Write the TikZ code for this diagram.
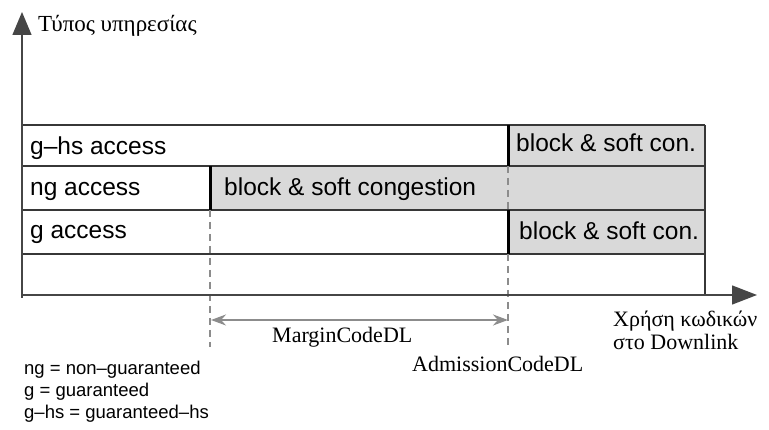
\documentclass[tikz,border=0pt]{standalone}
\usepackage{fontspec}
\setmainfont{Liberation Serif}
\setsansfont{Liberation Sans}
\usetikzlibrary{arrows.meta,positioning}
\definecolor{codeGrid}{RGB}{55,55,55}
\definecolor{codeAxis}{RGB}{70,70,70}
\definecolor{codeFill}{RGB}{217,217,217}
\definecolor{codeGuide}{RGB}{140,140,140}

\begin{document}
\begin{tikzpicture}[x=1pt,y=-1pt,
  rowline/.style={draw=codeGrid, line width=1.4pt},
  limitline/.style={draw=black, line width=3pt},
  guideline/.style={draw=codeGuide, line width=1.3pt, dash pattern=on 7pt off 5pt},
  celltext/.style={font=\sffamily\fontsize{24.5}{28}\selectfont, anchor=base west, inner sep=0pt},
  axistext/.style={font=\rmfamily\fontsize{22}{23}\selectfont, anchor=base west, inner sep=0pt, align=left},
  legendtext/.style={font=\sffamily\fontsize{18.5}{20}\selectfont, anchor=base west, inner sep=0pt}]
  \useasboundingbox (0,0) rectangle (769,430);

  % shaded congestion cells
  \fill[codeFill] (508,125) rectangle (705,166);
  \fill[codeFill] (210,166) rectangle (705,210);
  \fill[codeFill] (508,210) rectangle (705,254);

  % rows
  \foreach \y in {125,166,210,254}
    \draw[rowline] (22,\y) -- (705,\y);
  \draw[rowline] (705,125) -- (705,295);

  % thresholds
  \draw[limitline] (210,166) -- (210,210);
  \draw[limitline] (508,125) -- (508,166);
  \draw[limitline] (508,210) -- (508,254);
  \draw[guideline] (210,210) -- (210,347);
  \draw[guideline] (508,166) -- (508,210);
  \draw[guideline] (508,254) -- (508,345);

  % axes
  \coordinate (origin) at (22,298);
  \coordinate (ytip) at (22,12);
  \coordinate (xstart) at (22,295);
  \coordinate (xtip) at (757,295);
  \draw[draw=codeAxis, line width=1.4pt, -{Triangle[length=23pt,width=19pt,fill=codeAxis]}] (origin) -- (ytip);
  \draw[draw=codeAxis, line width=1.4pt, -{Triangle[length=25pt,width=19pt,fill=codeAxis]}] (xstart) -- (xtip);

  \coordinate (marginL) at (211,320);
  \coordinate (marginR) at (508,320);
  \draw[draw=codeGuide, line width=1.4pt, {Stealth[length=15pt,width=11pt]}-{Stealth[length=15pt,width=11pt]}] (marginL) -- (marginR);

  % labels
  \node[celltext] (ghs) at (30,155) {g–hs access};
  \node[celltext] (ng) at (30,196) {ng access};
  \node[celltext] (g) at (30,239) {g access};
  \node[celltext] (ngcong) at (224,196) {block \& soft congestion};
  \node[celltext] (ghscong) at (516,152) {block \& soft con.};
  \node[celltext] (gcong) at (519,240) {block \& soft con.};

  \node[axistext, font=\rmfamily\fontsize{23}{24}\selectfont] (ylabel) at (38,32) {Τύπος υπηρεσίας};
  \node[axistext] (xlabel) at (613,350) {Χρήση κωδικών\\στο Downlink};
  \node[axistext] (margin) at (272,343) {MarginCodeDL};
  \node[axistext] (admission) at (412,372) {AdmissionCodeDL};

  \node[legendtext] (leg1) at (24,375) {ng = non–guaranteed};
  \node[legendtext] (leg2) at (24,397) {g = guaranteed};
  \node[legendtext] (leg3) at (24,418) {g–hs = guaranteed–hs};
\end{tikzpicture}
\end{document}
